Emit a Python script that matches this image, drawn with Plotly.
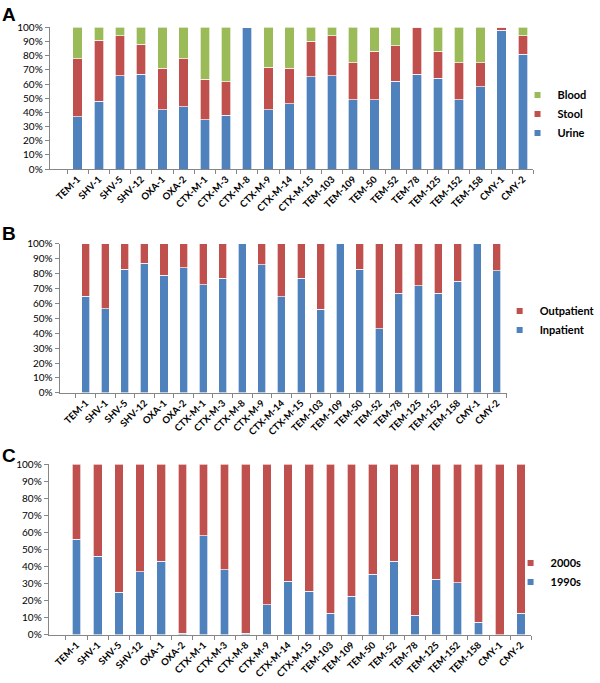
import plotly.graph_objects as go

categories = ["TEM-1","SHV-1","SHV-5","SHV-12","OXA-1","OXA-2","CTX-M-1","CTX-M-3","CTX-M-8",
              "CTX-M-9","CTX-M-14","CTX-M-15","TEM-103","TEM-109","TEM-50","TEM-52","TEM-78",
              "TEM-125","TEM-152","TEM-158","CMY-1","CMY-2"]

# Panel A: specimen source (%)
urine = [37, 48, 66, 67, 42, 44, 35, 38, 100, 42, 46, 65, 66, 49, 49, 62, 67, 64, 49, 58, 98, 81]
stool = [41, 43, 28, 21, 29, 34, 28.5, 23.5, 0, 30, 25, 25, 28, 26, 34, 25, 33, 19, 26, 17, 2, 13]
blood = [22, 9, 6, 12, 29, 22, 36.5, 38.5, 0, 28, 29, 10, 6, 25, 17, 13, 0, 17, 25, 25, 0, 6]

# Panel B: patient setting (%)
inpatient = [65, 56.5, 83, 87, 79, 84, 72.5, 77, 100, 86, 64.5, 77, 56, 100, 83, 43, 67, 72, 67, 75, 100, 82]
outpatient = [35, 43.5, 17, 13, 21, 16, 27.5, 23, 0, 14, 35.5, 23, 44, 0, 17, 57, 33, 28, 33, 25, 0, 18]

# Panel C: decade (%)
d1990s = [56, 46, 25, 37, 43, 1, 58, 38, 1, 17.5, 31.5, 25.5, 12.5, 22.5, 35.5, 43, 11.5, 32.5, 30.5, 7.5, 0, 12.5]
d2000s = [44, 54, 75, 63, 57, 99, 42, 62, 99, 82.5, 68.5, 74.5, 87.5, 77.5, 64.5, 57, 88.5, 67.5, 69.5, 92.5, 100, 87.5]

ytickvals = [0, 10, 20, 30, 40, 50, 60, 70, 80, 90, 100]
yticktext = ["0%", "10%", "20%", "30%", "40%", "50%", "60%", "70%", "80%", "90%", "100%"]

BLUE = "#4F81BD"
RED = "#C0504D"
GREEN = "#9BBB59"
FONT = "Lato"
W, H = 600, 683

def px_x(a, b):
    return [a / W, b / W]

def px_y(top, bottom):
    return [1 - bottom / H, 1 - top / H]

fig = go.Figure()

def add_bar(name, vals, color, xa, ya, width):
    fig.add_trace(go.Bar(
        x=categories, y=vals, name=name,
        marker=dict(color=color, line=dict(color="rgba(255,255,255,0.85)", width=0.8)),
        xaxis=xa, yaxis=ya, width=width, showlegend=False, hoverinfo="x+y+name"))

def add_key(name, color, xa, ya, legend):
    # legend-only entry with a small square key, as in the original
    fig.add_trace(go.Scatter(
        x=[categories[0]], y=[None], name=name, mode="markers",
        marker=dict(symbol="square", size=6, color=color, opacity=1),
        xaxis=xa, yaxis=ya, legend=legend, showlegend=True, hoverinfo="skip"))

add_bar("Urine", urine, BLUE, "x", "y", 0.45)
add_bar("Stool", stool, RED, "x", "y", 0.45)
add_bar("Blood", blood, GREEN, "x", "y", 0.45)
add_key("Blood", GREEN, "x", "y", "legend")
add_key("Stool", RED, "x", "y", "legend")
add_key("Urine", BLUE, "x", "y", "legend")

add_bar("Inpatient", inpatient, BLUE, "x2", "y2", 0.41)
add_bar("Outpatient", outpatient, RED, "x2", "y2", 0.41)
add_key("Outpatient", RED, "x2", "y2", "legend2")
add_key("Inpatient", BLUE, "x2", "y2", "legend2")

add_bar("1990s", d1990s, BLUE, "x3", "y3", 0.41)
add_bar("2000s", d2000s, RED, "x3", "y3", 0.41)
add_key("2000s", RED, "x3", "y3", "legend3")
add_key("1990s", BLUE, "x3", "y3", "legend3")

def xaxis(domain, anchor):
    return dict(domain=domain, anchor=anchor, type="category", showline=True, linecolor="#868686",
                linewidth=1, ticks="outside", tickson="boundaries", ticklen=4, tickcolor="#868686",
                tickangle=-45, tickfont=dict(family=FONT, size=9.5, color="#000", weight="bold"),
                showgrid=False, zeroline=False, fixedrange=True)

def yaxis(domain, anchor):
    return dict(domain=domain, anchor=anchor, range=[0, 100], tickvals=ytickvals, ticktext=yticktext,
                showline=True, linecolor="#868686", linewidth=1, ticks="outside", ticklen=4,
                tickcolor="#868686", tickfont=dict(family=FONT, size=10, color="#000"),
                showgrid=False, zeroline=False, fixedrange=True)

def legend(x, yc):
    return dict(x=x, y=yc, xanchor="left", yanchor="middle", traceorder="normal",
                font=dict(family=FONT, size=11, color="#000", weight="bold"),
                bgcolor="rgba(0,0,0,0)", itemwidth=30, tracegroupgap=0)

letter_font = dict(family="Liberation Sans", size=19, color="#000", weight="bold")

fig.update_layout(
    width=W, height=H, margin=dict(l=0, r=0, t=0, b=0),
    paper_bgcolor="white", plot_bgcolor="white", barmode="stack",
    showlegend=True,
    xaxis=xaxis(px_x(50, 537), "y"), yaxis=yaxis(px_y(20.7, 165.3), "x"),
    xaxis2=xaxis(px_x(60, 510), "y2"), yaxis2=yaxis(px_y(241.5, 393.3), "x2"),
    xaxis3=xaxis(px_x(49, 535), "y3"), yaxis3=yaxis(px_y(466, 640), "x3"),
    legend=legend(521 / W, 1 - 109 / H),
    legend2=legend(503 / W, 1 - 319.5 / H),
    legend3=legend(514 / W, 1 - 576.5 / H),
    font=dict(family=FONT),
    annotations=[
        dict(text="A", x=0, y=1 - 7.5 / H, xref="paper", yref="paper", xanchor="left", yanchor="middle",
             showarrow=False, font=letter_font),
        dict(text="B", x=0, y=1 - 230.5 / H, xref="paper", yref="paper", xanchor="left", yanchor="middle",
             showarrow=False, font=letter_font),
        dict(text="C", x=0, y=1 - 457 / H, xref="paper", yref="paper", xanchor="left", yanchor="middle",
             showarrow=False, font=letter_font),
    ],
)

# remove the browser's default page margin so the figure sits at the window's top-left corner
fig.write_html("out.html", config={"displayModeBar": False},
               post_script="document.body.style.margin='0';")
